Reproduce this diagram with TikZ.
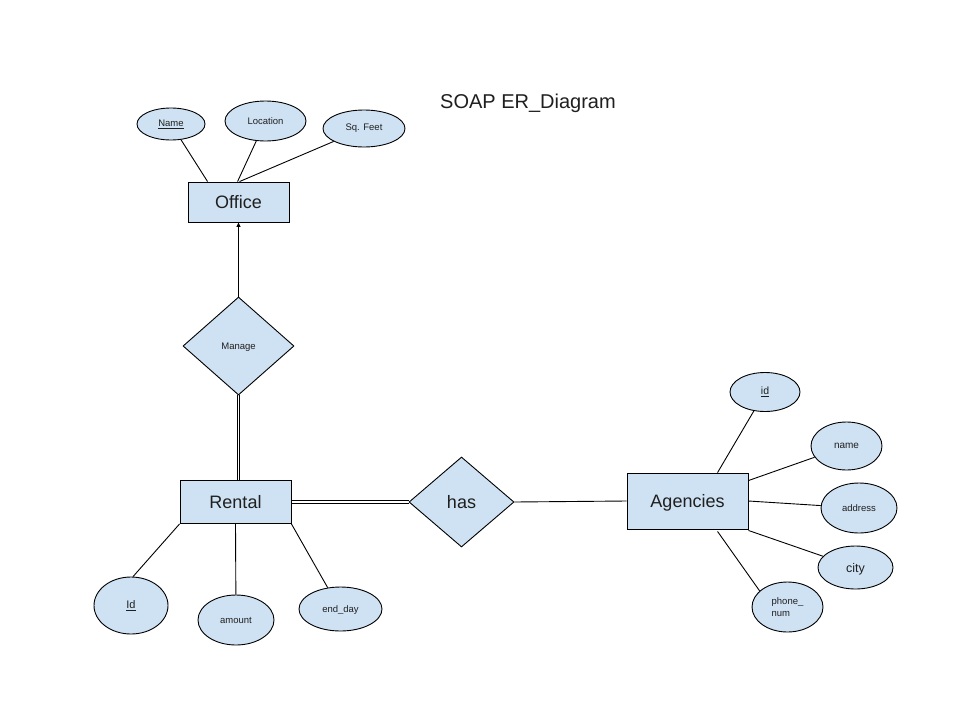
\documentclass[tikz,border=0pt]{standalone}
\usepackage{fontspec}
\setmainfont{Liberation Sans}
\usetikzlibrary{shapes.geometric,arrows.meta}
\definecolor{erfill}{HTML}{CFE2F3}
\definecolor{ertext}{HTML}{1F1F1F}
\tikzset{
  entity/.style={draw=black,fill=erfill,line width=0.9pt,rectangle,inner sep=0pt,text depth=0pt,text=ertext,font=\fontsize{18}{20}\selectfont},
  attr/.style={draw=black,fill=erfill,line width=0.9pt,ellipse,inner sep=0pt,text=ertext,font=\fontsize{9.5}{11}\selectfont},
  rel/.style={draw=black,fill=erfill,line width=0.9pt,diamond,inner sep=0pt,text depth=0pt,text=ertext},
  conn/.style={line width=0.9pt,draw=black},
}
\begin{document}
\begin{tikzpicture}[x=1pt,y=-1pt]
\useasboundingbox (0,0) rectangle (960,720);
\fill[white] (0,0) rectangle (960,720);

\node[font=\fontsize{20}{23}\selectfont,text=ertext] (title) at (528,103) {SOAP ER\_Diagram};

% entities
\node[entity,minimum width=101pt,minimum height=40pt] (office) at (238.5,202) {Office};
\node[entity,minimum width=111pt,minimum height=43pt] (rental) at (235.5,502) {Rental};
\node[entity,minimum width=121pt,minimum height=56pt] (agencies) at (687.5,501) {Agencies};

% relationships
\node[rel,minimum width=111pt,minimum height=98pt,font=\fontsize{9.5}{11}\selectfont] (manage) at (238.5,346) {Manage};
\node[rel,minimum width=105pt,minimum height=90pt,font=\fontsize{18}{20}\selectfont] (has) at (461.5,502) {has};

% office attributes
\node[attr,minimum width=68pt,minimum height=32pt] (oname) at (171,124) {\underline{Name}};
\node[attr,minimum width=81pt,minimum height=40pt] (oloc) at (265.5,121) {Location};
\node[attr,minimum width=82pt,minimum height=37pt] (osq) at (364,128.5) {Sq. Feet};

% rental attributes
\node[attr,minimum width=74pt,minimum height=57pt,font=\fontsize{11}{13}\selectfont] (rid) at (131,605.5) {\underline{Id}};
\node[attr,minimum width=76pt,minimum height=50pt] (ramount) at (236,620) {amount};
\node[attr,minimum width=83pt,minimum height=44pt,text depth=0pt] (rend) at (340.5,609) {end\_day};

% agencies attributes
\node[attr,minimum width=70pt,minimum height=39pt,font=\fontsize{10.5}{12}\selectfont] (aid) at (765,392) {\underline{id}};
\node[attr,minimum width=71pt,minimum height=48pt,font=\fontsize{10}{12}\selectfont] (aname) at (846.5,446) {name};
\node[attr,minimum width=76pt,minimum height=50pt,font=\fontsize{9.5}{11}\selectfont] (aaddr) at (859,508) {address};
\node[attr,minimum width=75pt,minimum height=43pt,text depth=0pt,font=\fontsize{12.5}{14}\selectfont] (acity) at (855.5,567.5) {city};
\node[attr,minimum width=71pt,minimum height=50pt,align=left,font=\fontsize{9.5}{12}\selectfont] (aphone) at (787.5,607) {phone\_\\num};

% connectors: office
\draw[conn] (oname) -- ([xshift=20pt]office.north west);
\draw[conn] (oloc) -- ([xshift=50pt]office.north west);
\draw[conn] (osq) -- ([xshift=52pt]office.north west);
\draw[conn,-{Triangle[length=4.5pt,width=4pt]}] (manage.north) -- (office.south);
\draw[conn] ([xshift=-1.1pt]manage.south) -- ([xshift=-1.1pt]manage.south |- rental.north);
\draw[conn] ([xshift=1.1pt]manage.south) -- ([xshift=1.1pt]manage.south |- rental.north);

% rental
\draw[conn] ([yshift=1.1pt]rental.east) -- ([yshift=1.1pt]has.west);
\draw[conn] ([yshift=-1.1pt]rental.east) -- ([yshift=-1.1pt]has.west);
\draw[conn] (has.east) -- (agencies.west);
\draw[conn] (rental.south west) -- (rid.86);
\draw[conn] (rental.south) -- (ramount);
\draw[conn] (rental.south east) -- (rend.121);

% agencies
\draw[conn] ([xshift=91pt]agencies.north west) -- (aid);
\draw[conn] ([yshift=-8pt]agencies.north east) -- (aname);
\draw[conn] (agencies.east) -- (aaddr);
\draw[conn] ([yshift=-1pt]agencies.south east) -- (acity);
\draw[conn] ([xshift=91pt,yshift=-2pt]agencies.south west) -- (aphone.150);
\end{tikzpicture}
\end{document}
